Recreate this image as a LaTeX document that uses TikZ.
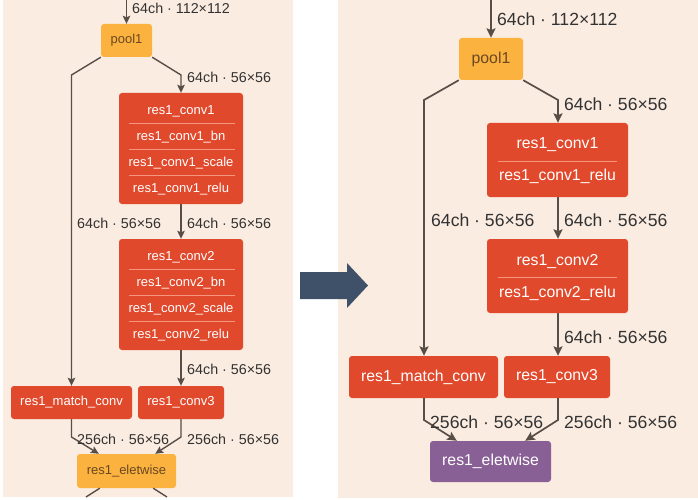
\documentclass[tikz,border=0pt]{standalone}
\usepackage{fontspec}
\setmainfont{Liberation Sans}
\usetikzlibrary{arrows.meta}
\definecolor{panelc}{RGB}{251,236,225}
\definecolor{redc}{RGB}{225,73,44}
\definecolor{sepc}{RGB}{243,150,125}
\definecolor{orangec}{RGB}{251,178,62}
\definecolor{orangetxt}{RGB}{105,72,36}
\definecolor{purplec}{RGB}{137,96,150}
\definecolor{linec}{RGB}{88,78,72}
\definecolor{labc}{RGB}{50,50,50}
\definecolor{bigarrowc}{RGB}{63,81,105}
\tikzset{
  box/.style={rounded corners=3pt, inner sep=0pt, align=center},
  redbox/.style={box, fill=redc, text=white},
  orbox/.style={box, fill=orangec, text=orangetxt},
  purbox/.style={box, fill=purplec, text=white},
  rowtxt/.style={inner sep=0pt, text=white},
  sepline/.style={draw=sepc, line width=0.8pt},
  lab/.style={anchor=west, inner sep=0pt, text=labc},
  arrL/.style={draw=linec, line width=1.4pt, -{Stealth[length=8pt,width=7.5pt,inset=1.5pt]}},
  arrR/.style={draw=linec, line width=1.7pt, -{Stealth[length=9.5pt,width=9pt,inset=1.8pt]}},
  lineL/.style={draw=linec, line width=1.4pt},
  fL/.style={font=\fontsize{13}{15}\selectfont},
  fLl/.style={font=\fontsize{14.3}{16}\selectfont},
  fR/.style={font=\fontsize{15.8}{18}\selectfont},
  fRl/.style={font=\fontsize{17.6}{20}\selectfont},
}
\begin{document}
\begin{tikzpicture}[x=1pt,y=-1pt]
\useasboundingbox (0,0) rectangle (698,500);
% panels
\fill[panelc] (3,0) rectangle (293,497);
\fill[panelc] (338,0) rectangle (698,498);

% ================= LEFT PANEL =================
\node[orbox, fL, minimum width=51pt, minimum height=33pt] (Lpool) at (126.5,40.5) {pool1};
\node[redbox, minimum width=124pt, minimum height=111pt] (Lc1) at (181,148.5) {};
\node[rowtxt, fL] (Lc1a) at (181,111) {res1\_conv1};
\node[rowtxt, fL] (Lc1b) at (181,137) {res1\_conv1\_bn};
\node[rowtxt, fL] (Lc1c) at (181,163) {res1\_conv1\_scale};
\node[rowtxt, fL] (Lc1d) at (181,189) {res1\_conv1\_relu};
\draw[sepline] (129,123.5) -- (235,123.5);
\draw[sepline] (129,149.5) -- (235,149.5);
\draw[sepline] (129,175) -- (235,175);

\node[redbox, minimum width=124pt, minimum height=111pt] (Lc2) at (181,294.5) {};
\node[rowtxt, fL] (Lc2a) at (181,257) {res1\_conv2};
\node[rowtxt, fL] (Lc2b) at (181,283) {res1\_conv2\_bn};
\node[rowtxt, fL] (Lc2c) at (181,309) {res1\_conv2\_scale};
\node[rowtxt, fL] (Lc2d) at (181,335) {res1\_conv2\_relu};
\draw[sepline] (129,269.5) -- (235,269.5);
\draw[sepline] (129,295.5) -- (235,295.5);
\draw[sepline] (129,321) -- (235,321);

\node[redbox, fL, minimum width=121pt, minimum height=33pt] (Lmatch) at (71.5,402.5) {res1\_match\_conv};
\node[redbox, fL, minimum width=86pt, minimum height=33pt] (Lc3) at (181,402.5) {res1\_conv3};
\node[orbox, fL, minimum width=99pt, minimum height=34pt] (Lelt) at (126.5,471) {res1\_eletwise};

\coordinate (Lin) at (126.5,0);
\coordinate (Lb1) at (71.5,75);
\coordinate (Lb2) at (181,75);
\coordinate (Lm1) at (71.5,437);
\coordinate (Lm2) at (181,437);
\coordinate (Lo1) at (86,497);
\coordinate (Lo2) at (167,497);
\draw[arrL] (Lin) -- (Lpool.north);
\draw[arrL] (Lpool.south west) -- (Lb1) -- (Lmatch.north);
\draw[arrL] (Lpool.south east) -- (Lb2) -- (Lc1.north);
\draw[arrL] (Lc1.south) -- (Lc2.north);
\draw[arrL] (Lc2.south) -- (Lc3.north);
\draw[arrL] (Lmatch.south) -- (Lm1) -- ([xshift=22pt]Lelt.north west);
\draw[arrL] (Lc3.south) -- (Lm2) -- ([xshift=-21pt]Lelt.north east);
\draw[lineL] ([xshift=23pt]Lelt.south west) -- (Lo1);
\draw[lineL] ([xshift=-23pt]Lelt.south east) -- (Lo2);

\node[lab, fLl] (Ll0) at (132,8) {64ch · 112×112};
\node[lab, fLl] (Ll1) at (187,77) {64ch · 56×56};
\node[lab, fLl] (Ll2) at (77,223) {64ch · 56×56};
\node[lab, fLl] (Ll3) at (187,223) {64ch · 56×56};
\node[lab, fLl] (Ll4) at (187,369) {64ch · 56×56};
\node[lab, fLl] (Ll5) at (77,439) {256ch · 56×56};
\node[lab, fLl] (Ll6) at (187,439) {256ch · 56×56};

% ================= RIGHT PANEL =================
\node[orbox, fR, minimum width=64pt, minimum height=42pt] (Rpool) at (491,59) {pool1};
\node[redbox, minimum width=141pt, minimum height=74pt] (Rc1) at (557.5,160) {};
\node[rowtxt, fR] (Rc1a) at (557.5,145) {res1\_conv1};
\node[rowtxt, fR] (Rc1b) at (557.5,176) {res1\_conv1\_relu};
\draw[sepline] (498,161) -- (617,161);
\node[redbox, minimum width=141pt, minimum height=74pt] (Rc2) at (557.5,276) {};
\node[rowtxt, fR] (Rc2a) at (557.5,262) {res1\_conv2};
\node[rowtxt, fR] (Rc2b) at (557.5,293) {res1\_conv2\_relu};
\draw[sepline] (498,277) -- (617,277);

\node[redbox, fR, minimum width=149pt, minimum height=42pt] (Rmatch) at (423.5,377) {res1\_match\_conv};
\node[redbox, fR, minimum width=106pt, minimum height=42pt] (Rc3) at (557,377) {res1\_conv3};
\node[purbox, fR, minimum width=121pt, minimum height=41pt] (Relt) at (490.5,461.5) {res1\_eletwise};

\coordinate (Rin) at (491,0);
\coordinate (Rb1) at (424,100);
\coordinate (Rb2) at (558,100);
\coordinate (Rm1) at (424,420);
\coordinate (Rm2) at (558,420);
\draw[arrR] (Rin) -- (Rpool.north);
\draw[arrR] (Rpool.south west) -- (Rb1) -- (Rmatch.north -| Rb1);
\draw[arrR] (Rpool.south east) -- (Rb2) -- (Rc1.north -| Rb2);
\draw[arrR] (Rc1.south -| Rb2) -- (Rc2.north -| Rb2);
\draw[arrR] (Rc2.south -| Rb2) -- (Rc3.north -| Rb2);
\draw[arrR] (Rmatch.south -| Rm1) -- (Rm1) -- ([xshift=27pt]Relt.north west);
\draw[arrR] (Rc3.south -| Rm2) -- (Rm2) -- ([xshift=-26pt]Relt.north east);

\node[lab, fRl] (Rl0) at (497,19) {64ch · 112×112};
\node[lab, fRl] (Rl1) at (564,104) {64ch · 56×56};
\node[lab, fRl] (Rl2) at (431,220) {64ch · 56×56};
\node[lab, fRl] (Rl3) at (564,220) {64ch · 56×56};
\node[lab, fRl] (Rl4) at (564,337) {64ch · 56×56};
\node[lab, fRl] (Rl5) at (430,422) {256ch · 56×56};
\node[lab, fRl] (Rl6) at (564,422) {256ch · 56×56};

% ================= BIG ARROW =================
\fill[bigarrowc] (300,272) -- (347,272) -- (347,263) -- (368,285.5) -- (347,308) -- (347,299) -- (300,299) -- cycle;
\end{tikzpicture}
\end{document}
